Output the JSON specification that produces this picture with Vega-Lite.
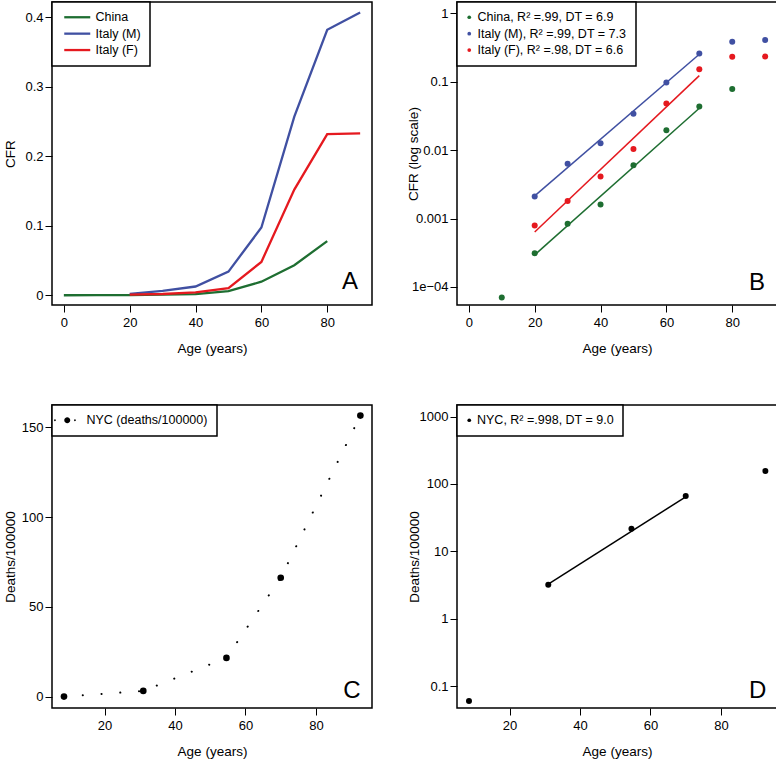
{
  "$schema": "https://vega.github.io/schema/vega-lite/v6.json",
  "background": "white",
  "padding": {"left": 2, "top": 0, "right": 0, "bottom": 0},
  "columns": 2,
  "spacing": {"row": 100, "column": 85},
  "bounds": "flush",
  "resolve": {"scale": {"color": "independent", "x": "independent", "y": "independent"}, "legend": {"color": "independent"}},
  "config": {
    "font": "Liberation Sans",
    "view": {"stroke": "black", "strokeWidth": 1.5},
    "axis": {
      "labelFont": "Liberation Sans", "labelFontSize": 13, "labelColor": "black",
      "titleFont": "Liberation Sans", "titleFontSize": 13.5, "titleFontWeight": "normal", "titleColor": "black",
      "tickColor": "black", "tickSize": 7, "tickWidth": 1, "domain": false, "grid": false,
      "labelOverlap": false, "labelFlush": false
    },
    "axisX": {"labelBaseline": "alphabetic", "labelPadding": 14, "titleBaseline": "alphabetic", "titleY": 47.5},
    "axisY": {"labelPadding": 2, "titleBaseline": "alphabetic", "titleX": -37.5},
    "legend": {
      "labelFont": "Liberation Sans", "labelFontSize": 12.5, "labelColor": "black",
      "strokeColor": "black", "strokeWidth": 1.5, "fillColor": "white",
      "padding": 9, "orient": "top-left", "offset": 0, "title": null,
      "rowPadding": 3.4, "labelLimit": 400
    }
  },
  "datasets": {
    "cfr": [
      {"series": "China", "age": 0, "cfr": 0},
      {"series": "China", "age": 10, "cfr": 0.00007},
      {"series": "China", "age": 20, "cfr": 0.00031},
      {"series": "China", "age": 30, "cfr": 0.00084},
      {"series": "China", "age": 40, "cfr": 0.0016},
      {"series": "China", "age": 50, "cfr": 0.006},
      {"series": "China", "age": 60, "cfr": 0.0195},
      {"series": "China", "age": 70, "cfr": 0.0432},
      {"series": "China", "age": 80, "cfr": 0.078},
      {"series": "Italy (M)", "age": 20, "cfr": 0.0021},
      {"series": "Italy (M)", "age": 30, "cfr": 0.0063},
      {"series": "Italy (M)", "age": 40, "cfr": 0.0126},
      {"series": "Italy (M)", "age": 50, "cfr": 0.0341},
      {"series": "Italy (M)", "age": 60, "cfr": 0.0975},
      {"series": "Italy (M)", "age": 70, "cfr": 0.257},
      {"series": "Italy (M)", "age": 80, "cfr": 0.382},
      {"series": "Italy (M)", "age": 90, "cfr": 0.407},
      {"series": "Italy (F)", "age": 20, "cfr": 0.00079},
      {"series": "Italy (F)", "age": 30, "cfr": 0.0018},
      {"series": "Italy (F)", "age": 40, "cfr": 0.0041},
      {"series": "Italy (F)", "age": 50, "cfr": 0.0104},
      {"series": "Italy (F)", "age": 60, "cfr": 0.048},
      {"series": "Italy (F)", "age": 70, "cfr": 0.152},
      {"series": "Italy (F)", "age": 80, "cfr": 0.232},
      {"series": "Italy (F)", "age": 90, "cfr": 0.233}
    ],
    "fits": [
      {"series": "China", "age": 20, "cfr": 0.000294},
      {"series": "China", "age": 70, "cfr": 0.0409},
      {"series": "Italy (M)", "age": 20, "cfr": 0.00214},
      {"series": "Italy (M)", "age": 70, "cfr": 0.252},
      {"series": "Italy (F)", "age": 20, "cfr": 0.000637},
      {"series": "Italy (F)", "age": 70, "cfr": 0.1227}
    ],
    "nyc": [
      {"series": "NYC", "age": 8.5, "rate": 0.06},
      {"series": "NYC", "age": 31, "rate": 3.2},
      {"series": "NYC", "age": 54.6, "rate": 21.6},
      {"series": "NYC", "age": 70, "rate": 66.2},
      {"series": "NYC", "age": 92.6, "rate": 156.5}
    ],
    "nycfit": [
      {"age": 31, "rate": 3.27},
      {"age": 70, "rate": 64.4}
    ]
  },
  "concat": [
    {
      "width": 320, "height": 303,
      "layer": [
        {
          "data": {"name": "cfr"},
          "mark": {"type": "line", "strokeWidth": 2.3},
          "encoding": {
            "x": {"field": "age", "type": "quantitative", "title": "Age (years)",
                  "scale": {"domain": [-3.6, 93.6], "nice": false, "zero": false},
                  "axis": {"values": [0, 20, 40, 60, 80]}},
            "y": {"field": "cfr", "type": "quantitative", "title": "CFR",
                  "scale": {"domain": [-0.014, 0.422], "nice": false, "zero": false},
                  "axis": {"values": [0, 0.1, 0.2, 0.3, 0.4], "format": "~g", "titleX": -37.5}},
            "color": {"field": "series", "type": "nominal",
                      "scale": {"domain": ["China", "Italy (M)", "Italy (F)"], "range": ["#1E6E31", "#4050A2", "#E5191F"]},
                      "legend": {"symbolType": "M-13,0H13", "symbolSize": 4, "symbolStrokeWidth": 2.3, "symbolOffset": 10, "labelOffset": 12}},
            "order": {"field": "age", "type": "quantitative"}
          }
        },
        {
          "data": {"values": [{"label": "A", "x": 86.9, "y": 0.0095}]},
          "mark": {"type": "text", "fontSize": 24, "font": "Liberation Sans", "align": "center", "baseline": "alphabetic", "color": "black"},
          "encoding": {
            "x": {"field": "x", "type": "quantitative"},
            "y": {"field": "y", "type": "quantitative"},
            "text": {"field": "label"}
          }
        }
      ]
    },
    {
      "width": 320, "height": 303,
      "layer": [
        {
          "data": {"name": "fits"},
          "mark": {"type": "line", "strokeWidth": 1.5},
          "encoding": {
            "x": {"field": "age", "type": "quantitative", "title": "Age (years)",
                  "scale": {"domain": [-3.6, 93.6], "nice": false, "zero": false},
                  "axis": {"values": [0, 20, 40, 60, 80]}},
            "y": {"field": "cfr", "type": "quantitative", "title": "CFR (log scale)",
                  "scale": {"type": "log", "domain": [0.0000545, 1.46], "nice": false, "zero": false},
                  "axis": {"values": [0.0001, 0.001, 0.01, 0.1, 1], "labelExpr": "datum.value < 0.0005 ? '1e\u221204' : format(datum.value, '~g')", "titleX": -39.4}},
            "stroke": {"field": "series", "type": "nominal",
                      "scale": {"domain": ["China", "Italy (M)", "Italy (F)"], "range": ["#1E6E31", "#4050A2", "#E5191F"]},
                      "legend": null},
            "detail": {"field": "series"}
          }
        },
        {
          "data": {"name": "cfr"},
          "transform": [{"filter": "datum.cfr > 0"}],
          "mark": {"type": "circle", "size": 36, "opacity": 1},
          "encoding": {
            "x": {"field": "age", "type": "quantitative"},
            "y": {"field": "cfr", "type": "quantitative"},
            "color": {"field": "series", "type": "nominal",
                      "scale": {"domain": ["China", "Italy (M)", "Italy (F)"], "range": ["#1E6E31", "#4050A2", "#E5191F"]},
                      "legend": {"symbolType": "circle", "symbolSize": 14, "symbolOffset": -3, "labelOffset": 2,
                                 "labelExpr": "datum.label == 'China' ? 'China, R\u00b2 =.99, DT = 6.9' : datum.label == 'Italy (M)' ? 'Italy (M), R\u00b2 =.99, DT = 7.3' : 'Italy (F), R\u00b2 =.98, DT = 6.6'"}}
          }
        },
        {
          "data": {"values": [{"label": "B", "x": 87.5, "y": 0.00009}]},
          "mark": {"type": "text", "fontSize": 24, "font": "Liberation Sans", "align": "center", "baseline": "alphabetic", "color": "black"},
          "encoding": {
            "x": {"field": "x", "type": "quantitative"},
            "y": {"field": "y", "type": "quantitative"},
            "text": {"field": "label"}
          }
        }
      ]
    },
    {
      "width": 320, "height": 303,
      "layer": [
        {
          "data": {"name": "nyc"},
          "mark": {"type": "line", "strokeWidth": 2, "strokeDash": [0.1, 18.7], "strokeCap": "round", "color": "black"},
          "encoding": {
            "x": {"field": "age", "type": "quantitative", "title": "Age (years)",
                  "scale": {"domain": [5.1, 95.9], "nice": false, "zero": false},
                  "axis": {"values": [20, 40, 60, 80]}},
            "y": {"field": "rate", "type": "quantitative", "title": "Deaths/100000",
                  "scale": {"domain": [-6.3, 162.4], "nice": false, "zero": false},
                  "axis": {"values": [0, 50, 100, 150], "titleX": -37.5}},
            "order": {"field": "age", "type": "quantitative"}
          }
        },
        {
          "data": {"name": "nyc"},
          "mark": {"type": "circle", "size": 44, "opacity": 1},
          "encoding": {
            "x": {"field": "age", "type": "quantitative"},
            "y": {"field": "rate", "type": "quantitative"},
            "color": {"field": "series", "type": "nominal", "scale": {"range": ["black"]},
                      "legend": {"symbolType": "M-3,0A3,3 0 1,0 3,0A3,3 0 1,0 -3,0ZM-13.2,0A0.9,0.9 0 1,0 -11.4,0A0.9,0.9 0 1,0 -13.2,0ZM6.8,0A0.9,0.9 0 1,0 8.6,0A0.9,0.9 0 1,0 6.8,0Z",
                                 "symbolSize": 4, "symbolOffset": 0, "labelOffset": 13, "symbolFillColor": "black",
                                 "labelExpr": "'NYC (deaths/100000)'"}}
          }
        },
        {
          "data": {"values": [{"label": "C", "x": 90.2, "y": -0.9}]},
          "mark": {"type": "text", "fontSize": 24, "font": "Liberation Sans", "align": "center", "baseline": "alphabetic", "color": "black"},
          "encoding": {
            "x": {"field": "x", "type": "quantitative"},
            "y": {"field": "y", "type": "quantitative"},
            "text": {"field": "label"}
          }
        }
      ]
    },
    {
      "width": 320, "height": 303,
      "layer": [
        {
          "data": {"name": "nycfit"},
          "mark": {"type": "line", "strokeWidth": 1.5, "color": "black"},
          "encoding": {
            "x": {"field": "age", "type": "quantitative", "title": "Age (years)",
                  "scale": {"domain": [5.1, 95.9], "nice": false, "zero": false},
                  "axis": {"values": [20, 40, 60, 80]}},
            "y": {"field": "rate", "type": "quantitative", "title": "Deaths/100000",
                  "scale": {"type": "log", "domain": [0.0472, 1489], "nice": false, "zero": false},
                  "axis": {"values": [0.1, 1, 10, 100, 1000], "format": "~g", "titleX": -38.2}}
          }
        },
        {
          "data": {"name": "nyc"},
          "mark": {"type": "circle", "size": 36, "opacity": 1},
          "encoding": {
            "x": {"field": "age", "type": "quantitative"},
            "y": {"field": "rate", "type": "quantitative"},
            "color": {"field": "series", "type": "nominal", "scale": {"range": ["black"]},
                      "legend": {"symbolType": "circle", "symbolSize": 14, "symbolOffset": -3, "labelOffset": 1.5,
                                 "labelExpr": "'NYC, R\u00b2 =.998, DT = 9.0'"}}
          }
        },
        {
          "data": {"values": [{"label": "D", "x": 90.4, "y": 0.0657}]},
          "mark": {"type": "text", "fontSize": 24, "font": "Liberation Sans", "align": "center", "baseline": "alphabetic", "color": "black"},
          "encoding": {
            "x": {"field": "x", "type": "quantitative"},
            "y": {"field": "y", "type": "quantitative"},
            "text": {"field": "label"}
          }
        }
      ]
    }
  ]
}
